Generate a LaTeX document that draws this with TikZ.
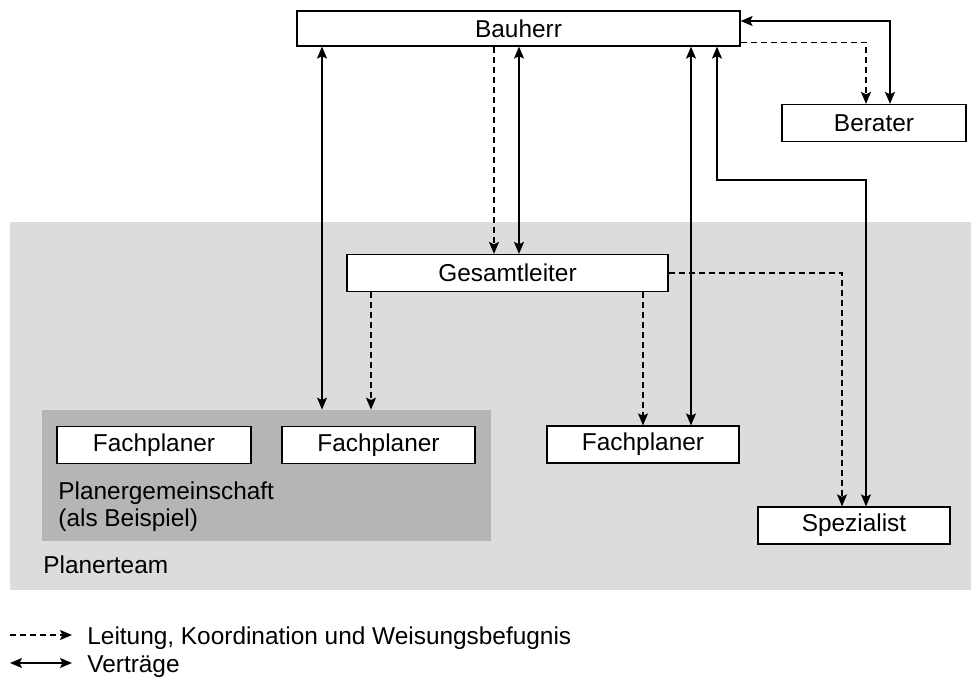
\documentclass[tikz,border=0pt]{standalone}
\usepackage{fontspec}
\setmainfont{Liberation Sans}
\usetikzlibrary{arrows.meta}
\definecolor{teamgray}{RGB}{220,220,220}
\definecolor{pggray}{RGB}{181,181,181}

\tikzset{
    box/.style={draw, fill=white, line width=0.6pt, minimum height=18.5pt, inner sep=0pt},
    vertrag/.style={line width=0.7pt, {Stealth[length=6pt,width=5pt,inset=1.2pt]}-{Stealth[length=6pt,width=5pt,inset=1.2pt]}},
    leitung/.style={line width=0.7pt, dash pattern=on 3pt off 2pt, -{Stealth[length=6pt,width=5pt,inset=1.2pt]}},
}

\begin{document}
\begin{tikzpicture}[x=0.5pt, y=-0.5pt, font=\fontsize{12.2}{13.5}\selectfont]
    \useasboundingbox (0,0) rectangle (971,684);
    % Grey areas
    \node[fill=teamgray, minimum width=480.5pt, minimum height=184pt, inner sep=0pt] (team) at (490.5, 406) {};
    \node[fill=pggray, minimum width=224.5pt, minimum height=65.5pt, inner sep=0pt] (pgem) at (266.5, 475.5) {};
    \node[anchor=base west, inner sep=0pt] (teamlabel) at (43, 574) {Planerteam};
    \node[anchor=north west, align=left, inner sep=0pt] (pglabel) at (58, 481) {Planergemeinschaft\\(als Beispiel)};
    % Boxes
    \node[box, minimum width=221.5pt, minimum height=17.5pt] (bauherr) at (518.5, 28.5) {Bauherr};
    \node[box, minimum width=92pt] (berater) at (874, 123) {Berater};
    \node[box, minimum width=160.5pt] (gesamt) at (507.5, 273) {Gesamtleiter};
    \node[box, minimum width=97pt] (fp1) at (154, 445) {Fachplaner};
    \node[box, minimum width=96.5pt] (fp2) at (378.5, 445) {Fachplaner};
    \node[box, minimum width=96pt] (fp3) at (643, 444.5) {Fachplaner};
    \node[box, minimum width=96pt] (spez) at (854, 525.5) {Spezialist};
    % x positions of the vertical lines
    \foreach \n/\x in {a/322, b/371, c/494, d/519, e/691, f/717, g/842, h/866}
        \coordinate (x\n) at (\x, 0);
    \coordinate (knick) at (866, 180);
    % Vertraege
    \draw[vertrag] (bauherr.south -| xa) -- (pgem.north -| xa);
    \draw[vertrag] (bauherr.south -| xd) -- (gesamt.north -| xd);
    \draw[vertrag] (bauherr.south -| xe) -- (fp3.north -| xe);
    \draw[vertrag] (bauherr.south -| xf) |- (knick) -- (spez.north -| knick);
    \draw[vertrag] ([yshift=3.75pt]bauherr.east) -| ([xshift=8pt]berater.north);
    % Leitung
    \draw[leitung] (bauherr.south -| xc) -- (gesamt.north -| xc);
    \draw[leitung] ([yshift=-7pt]bauherr.east) -| ([xshift=-4pt]berater.north);
    \draw[leitung] (gesamt.south -| xb) -- (pgem.north -| xb);
    \draw[leitung] (gesamt.south -| fp3.north) -- (fp3.north);
    \draw[leitung] (gesamt.east) -| (spez.north -| xg);
    % Legend
    \coordinate (l1a) at (10, 635);
    \coordinate (l1b) at (72, 635);
    \coordinate (l2a) at (10, 663);
    \coordinate (l2b) at (72, 663);
    \draw[leitung] (l1a) -- (l1b);
    \draw[vertrag] (l2a) -- (l2b);
    \node[anchor=base west, inner sep=0pt] (leg1) at (87, 645) {Leitung, Koordination und Weisungsbefugnis};
    \node[anchor=base west, inner sep=0pt] (leg2) at (87, 673) {Verträge};
\end{tikzpicture}
\end{document}
